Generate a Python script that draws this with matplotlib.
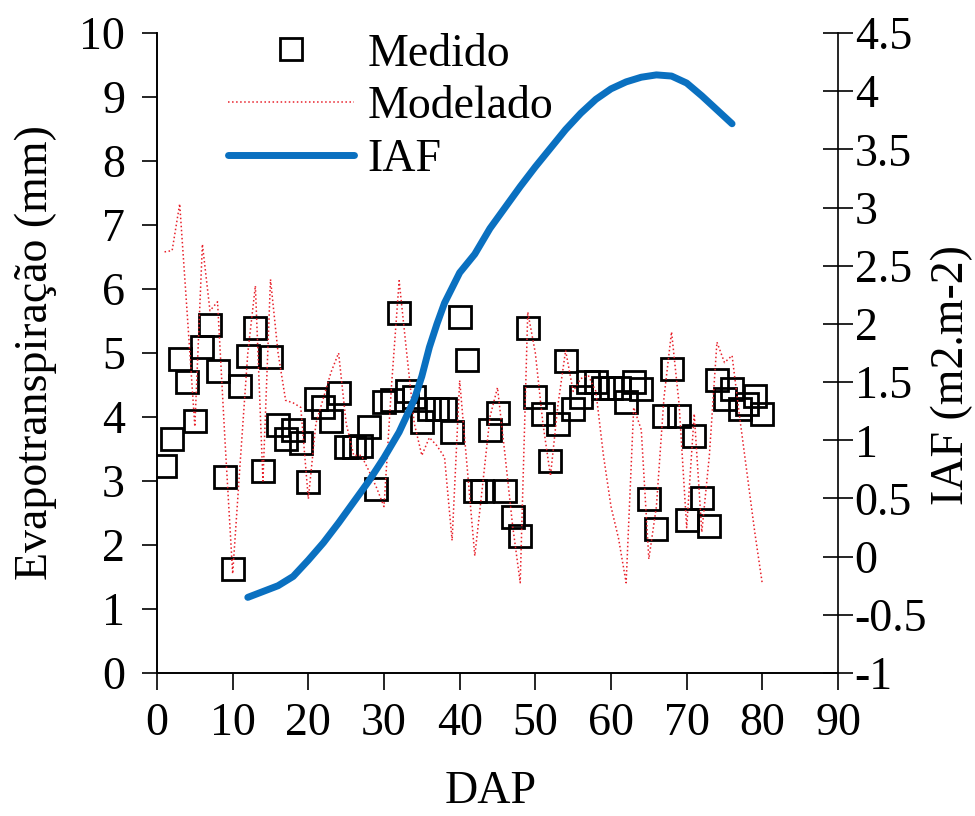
import matplotlib
matplotlib.use("Agg")
import matplotlib.pyplot as plt
from matplotlib.ticker import FuncFormatter

plt.rcParams['font.family'] = ['Liberation Serif', 'DejaVu Serif']

# Medido (squares), days 1..80
dias = list(range(1, 81))
medido = [3.24, 3.66, 4.91, 4.54, 3.93, 5.10, 5.44, 4.72, 3.06, 1.63,
          4.49, 4.95, 5.39, 3.15, 4.93, 3.88, 3.66, 3.80, 3.60, 2.98,
          4.28, 4.15, 3.94, 4.37, 3.53, 3.53, 3.55, 3.85, 2.88, 4.23,
          4.27, 5.62, 4.41, 4.31, 3.92, 4.12, 4.12, 4.12, 3.76, 5.56,
          4.89, 2.85, 2.85, 3.79, 4.06, 2.85, 2.43, 2.14, 5.39, 4.31,
          4.05, 3.32, 3.89, 4.88, 4.13, 4.31, 4.54, 4.54, 4.46, 4.46,
          4.46, 4.23, 4.54, 4.44, 2.72, 2.25, 4.02, 4.75, 4.02, 2.39,
          3.71, 2.74, 2.30, 4.58, 4.28, 4.44, 4.13, 4.20, 4.33, 4.05]

# Modelado (red dotted line), days 1..80
modelado = [6.58, 6.60, 7.33, 5.60, 3.85, 6.70, 5.66, 5.80, 3.60, 1.55,
            3.30, 5.00, 6.05, 3.00, 6.15, 5.00, 4.26, 4.22, 4.15, 2.72,
            3.90, 4.30, 4.70, 5.00, 3.90, 3.40, 3.40, 3.16, 2.90, 2.60,
            4.50, 6.13, 5.00, 3.90, 3.40, 3.68, 3.55, 3.37, 2.07, 4.57,
            3.20, 1.83, 2.90, 4.00, 4.46, 3.40, 2.30, 1.41, 5.64, 5.00,
            3.90, 3.08, 4.20, 5.04, 4.40, 4.60, 4.65, 4.40, 3.40, 2.60,
            2.10, 1.41, 4.15, 3.80, 1.78, 2.60, 4.30, 5.33, 4.20, 2.27,
            4.05, 2.20, 3.40, 5.17, 4.85, 4.96, 4.00, 3.10, 2.20, 1.39]

# IAF (blue line, right axis)
dias_iaf = [12, 14, 16, 18, 20, 22, 24, 26, 28, 30, 32, 34, 35, 36, 37, 38,
            40, 42, 44, 46, 48, 50, 52, 54, 56, 58, 60, 62, 64, 66, 68, 70,
            72, 74, 76]
iaf = [-0.35, -0.30, -0.25, -0.17, -0.03, 0.12, 0.29, 0.47, 0.65, 0.85,
       1.07, 1.35, 1.55, 1.80, 2.00, 2.18, 2.44, 2.60, 2.82, 3.00, 3.18,
       3.35, 3.51, 3.67, 3.81, 3.93, 4.02, 4.08, 4.12, 4.14, 4.13, 4.07,
       3.96, 3.84, 3.72]

FS = 33

fig = plt.figure(figsize=(9.75, 8.16), dpi=100)
ax = fig.add_axes([157 / 975, 1 - 673 / 816, (838 - 157) / 975, (673 - 33) / 816])
ax2 = ax.twinx()

l_med, = ax.plot(dias, medido, 's', mfc='none', mec='black', ms=16.5, mew=2,
                 label='Medido')
l_mod, = ax.plot(dias, modelado, ':', color='#e8202a', lw=1.1, label='Modelado')
l_iaf, = ax2.plot(dias_iaf, iaf, '-', color='#0a70c0', lw=5, solid_capstyle='round',
                  label='IAF')

ax.set_xlim(0, 90)
ax.set_ylim(0, 10)
ax2.set_ylim(-1, 4.5)
ax.set_xticks(range(0, 91, 10))
ax.set_yticks(range(0, 11))
ax2.set_yticks([-1 + 0.5 * i for i in range(12)])
ax2.yaxis.set_major_formatter(FuncFormatter(lambda v, p: ('%g' % v).replace('\u2212', '-')))

for a in (ax, ax2):
    a.spines['top'].set_visible(False)
    for s in a.spines.values():
        s.set_linewidth(1.2)
ax.spines['right'].set_visible(False)

ax.tick_params(axis='y', direction='out', length=11, width=1.2, labelsize=FS, pad=12)
ax.tick_params(axis='x', direction='out', length=12, width=1.2, labelsize=FS, pad=9)
ax2.tick_params(axis='y', direction='inout', length=22, width=1.2, labelsize=FS, pad=1)

ax.set_ylabel('Evapotranspiração (mm)', fontsize=FS)
ax.yaxis.set_label_coords(-0.147, 0.5)
ax2.set_ylabel('IAF (m2.m-2)', fontsize=FS, rotation=90)
ax2.yaxis.set_label_coords(1.136, 0.466)
ax.set_xlabel('DAP', fontsize=FS)
ax.xaxis.set_label_coords(0.49, -0.152)

ax.legend([l_med, l_mod, l_iaf], ['Medido', 'Modelado', 'IAF'], loc='upper left',
          bbox_to_anchor=((228 - 157) / 681, (673 - 33) / 640), frameon=False,
          fontsize=FS, handlelength=2.75, handletextpad=0.3, labelspacing=0.22,
          borderpad=0, borderaxespad=0)

fig.savefig('out.png', dpi=100)
